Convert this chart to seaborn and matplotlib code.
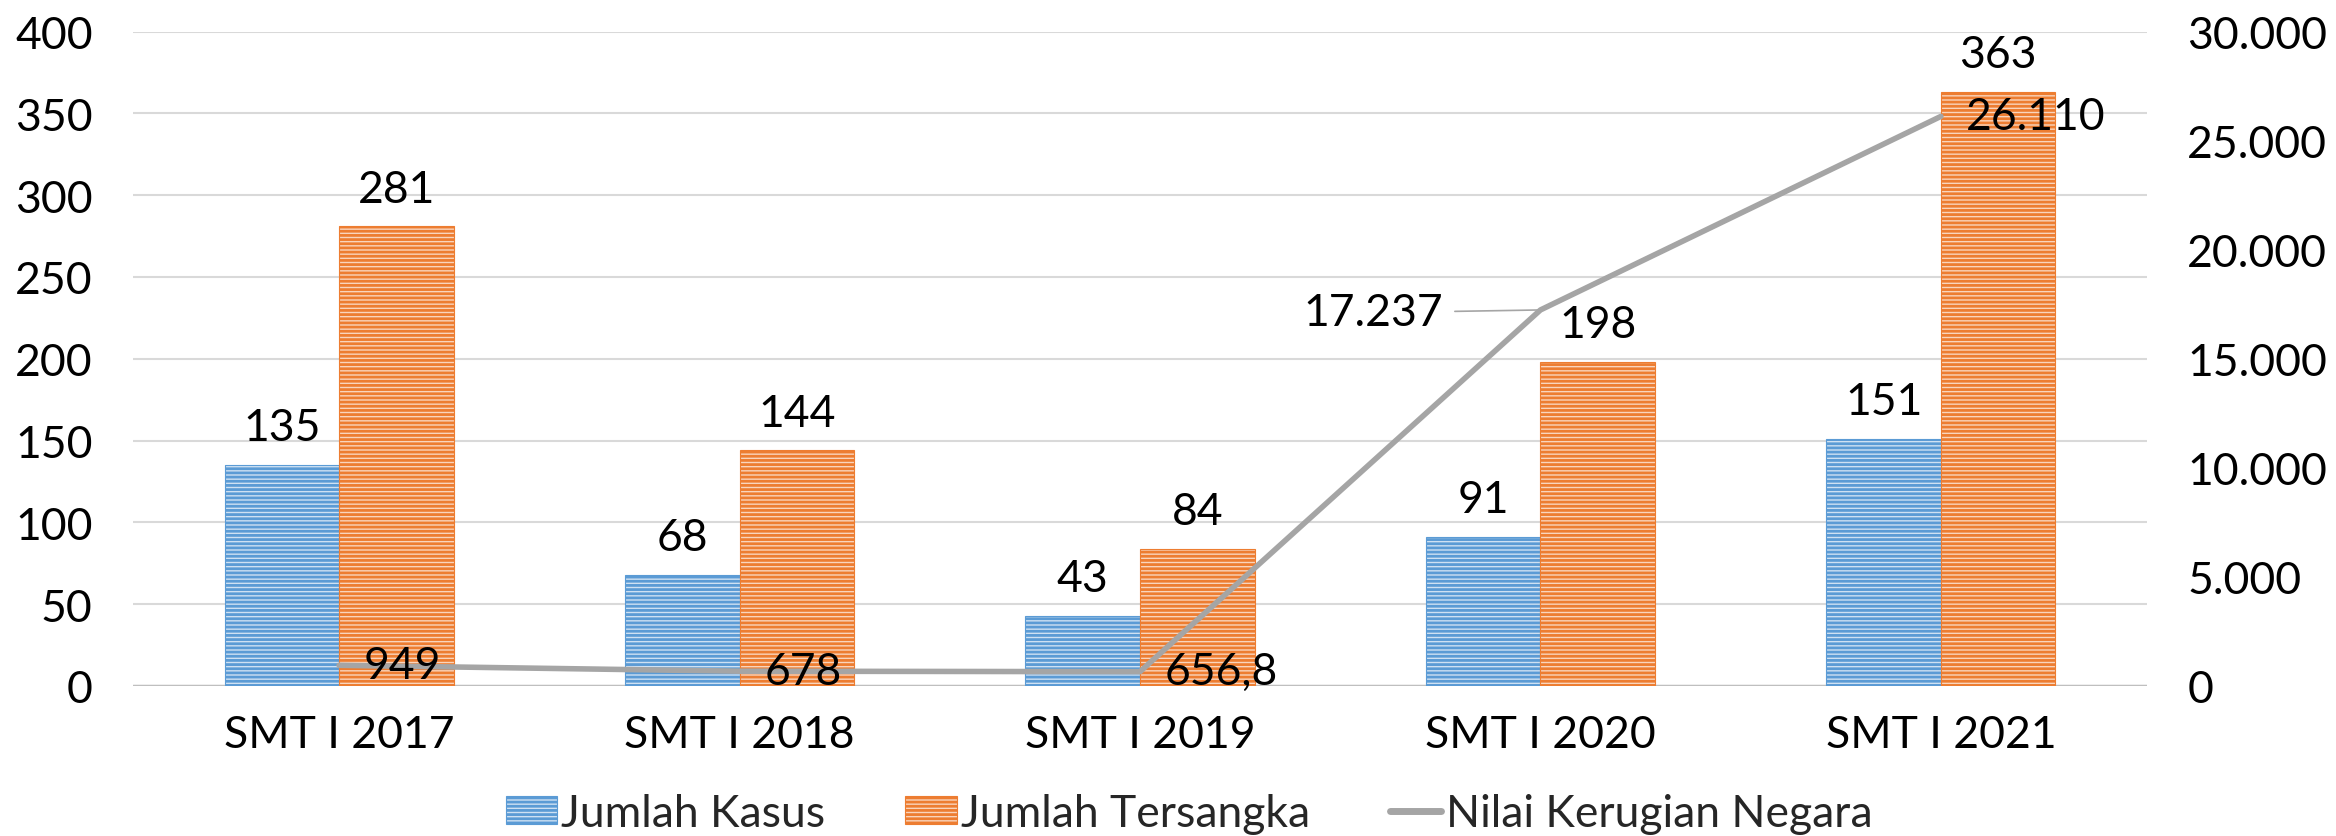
import numpy as np
import pandas as pd
import seaborn as sns
import matplotlib.pyplot as plt
from matplotlib.patches import Patch
from matplotlib.lines import Line2D
from matplotlib.ticker import FuncFormatter, MultipleLocator

periode = ['SMT I 2017', 'SMT I 2018', 'SMT I 2019', 'SMT I 2020', 'SMT I 2021']
jumlah_kasus = [135, 68, 43, 91, 151]
jumlah_tersangka = [281, 144, 84, 198, 363]
kerugian = [949, 678, 656.8, 17237, 26110]
seri = ['Jumlah Kasus', 'Jumlah Tersangka', 'Nilai Kerugian Negara']

biru, biru_muda = '#5B9BD5', '#CFE1F3'
oranye, oranye_muda = '#ED7D31', '#F9D5BD'
abu = '#A5A5A5'


def fmt_id(v):
    # format angka gaya Indonesia: titik ribuan, koma desimal
    if float(v).is_integer():
        return f'{int(v):,}'.replace(',', '.')
    return f'{v:,.1f}'.replace(',', 'X').replace('.', ',').replace('X', '.')


sns.set_theme(style='white')
plt.rcParams['font.family'] = ['Lato', 'DejaVu Sans']
plt.rcParams['hatch.linewidth'] = 2.0
fs = 32

df = pd.DataFrame({
    'periode': periode * 2,
    'nilai': jumlah_kasus + jumlah_tersangka,
    'seri': [seri[0]] * len(periode) + [seri[1]] * len(periode),
})

fig = plt.figure(figsize=(23.36, 8.37), dpi=100)
ax = fig.add_axes([133 / 2336, 1 - 687 / 837, 2014 / 2336, 654.5 / 837])

sns.barplot(data=df, x='periode', y='nilai', hue='seri', ax=ax,
            palette=[biru_muda, oranye_muda], saturation=1, width=0.572,
            gap=0, legend=False, zorder=2)

for cont, warna in zip(ax.containers, [biru, oranye]):
    for bar in cont:
        bar.set_hatch('----')
        bar.set_edgecolor(warna)
        bar.set_linewidth(0.8)
    ax.bar_label(cont, fmt='%d', padding=12, fontsize=fs, color='black')

ax.set_ylim(0, 400)
ax.yaxis.set_major_locator(MultipleLocator(50))
ax.grid(axis='y', color='#D9D9D9', linewidth=1.5, zorder=0)
ax.set_axisbelow(True)
for s in ax.spines.values():
    s.set_visible(False)
ax.axhline(0, color='#BFBFBF', linewidth=2.5, zorder=1)
ax.set_xlabel('')
ax.set_ylabel('')
ax.tick_params(axis='both', length=0, labelsize=fs, colors='black')
ax.tick_params(axis='y', pad=29)
ax.tick_params(axis='x', pad=20)

ax2 = ax.twinx()
posisi = np.arange(len(periode))
sns.lineplot(x=posisi, y=kerugian, ax=ax2, color=abu, linewidth=4.0, zorder=3)
ax2.set_ylim(0, 30000)
ax2.yaxis.set_major_locator(MultipleLocator(5000))
ax2.yaxis.set_major_formatter(FuncFormatter(lambda v, p: fmt_id(v)))
ax2.tick_params(axis='y', length=0, labelsize=fs, pad=29, colors='black')
for s in ax2.spines.values():
    s.set_visible(False)
ax2.grid(False)

for i, v in enumerate(kerugian):
    if i == 3:
        ax2.annotate(fmt_id(v), xy=(posisi[i], v), xytext=(-70, -2),
                     textcoords='offset points', ha='right', va='center',
                     fontsize=fs, color='black',
                     arrowprops=dict(arrowstyle='-', color=abu, lw=1.2,
                                     shrinkA=6, shrinkB=2))
    else:
        ax2.annotate(fmt_id(v), xy=(posisi[i], v), xytext=(18, 0),
                     textcoords='offset points', ha='left', va='center',
                     fontsize=fs, color='black')

handles = [
    Patch(facecolor=biru_muda, edgecolor=biru, hatch='----', linewidth=0.8),
    Patch(facecolor=oranye_muda, edgecolor=oranye, hatch='----', linewidth=0.8),
    Line2D([0], [0], color=abu, linewidth=5),
]
fig.legend(handles, seri, loc='center', bbox_to_anchor=(0.509, 0.027),
           ncol=3, frameon=False, fontsize=fs, handlelength=1.15,
           handleheight=0.6, handletextpad=0.1, columnspacing=1.8)

fig.savefig('out.png', dpi=100)
